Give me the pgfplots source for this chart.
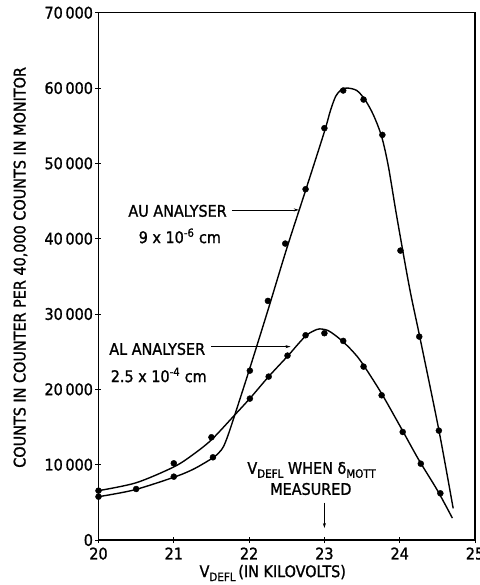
\documentclass[border=0pt]{standalone}
\usepackage{pgfplots}
\pgfplotsset{compat=1.18}
\usepackage{fontspec}
\setmainfont{DejaVu Sans Condensed}[FakeBold=1.2]
\usetikzlibrary{arrows.meta}

\newcommand{\lbl}{\fontsize{16}{18}\selectfont}
\newcommand{\sub}[1]{\raisebox{-0.45ex}{\fontsize{11.5}{13}\selectfont #1}}

\begin{document}
\begin{tikzpicture}
\begin{axis}[
  scale only axis,
  width=376.5pt, height=527.3pt,
  xmin=20, xmax=25, ymin=0, ymax=70000,
  xtick={20,21,22,23,24,25},
  xticklabels={20,21,22,23,24,25},
  ytick={0,10000,20000,30000,40000,50000,60000,70000},
  yticklabels={0,10\,000,20\,000,30\,000,40\,000,50\,000,60\,000,70\,000},
  xtick pos=bottom, ytick pos=left,
  tick align=center, major tick length=6pt,
  tick style={black, line width=0.9pt},
  axis line style={line width=1.3pt},
  tick label style={font=\lbl},
  xticklabel style={yshift=-1pt},
  yticklabel style={xshift=1pt},
  ylabel={COUNTS IN COUNTER PER 40,000 COUNTS IN MONITOR},
  ylabel style={font=\lbl, at={(rel axis cs:0,0.5)}, anchor=center, yshift=78pt, xshift=9pt},
  xlabel={V\sub{DEFL}\,(IN KILOVOLTS)},
  xlabel style={font=\lbl, at={(rel axis cs:0.5,0)}, anchor=center, yshift=-33pt, xshift=-14pt},
  clip=false,
]
% AU analyser fitted curve
\addplot[black, line width=1.4pt, smooth] coordinates {
(20,5750) (20.47,6640) (21,8330) (21.26,9400) (21.51,10850) (21.6,11600)
(21.66,12400) (21.72,13900) (21.8,16300) (22.0,22500) (22.25,30500)
(22.5,38700) (22.75,46400) (23.0,54200) (23.08,57000) (23.15,58900)
(23.22,59750) (23.3,60000) (23.43,59670) (23.54,58430) (23.65,56440)
(23.76,53560) (23.85,49580) (23.96,43000) (24.13,33500) (24.27,26800)
(24.52,14600) (24.71,4200)
};
% AL analyser fitted curve
\addplot[black, line width=1.4pt, smooth] coordinates {
(20,6550) (20.5,7600) (21,9700) (21.25,11300) (21.5,13300) (21.8,16500)
(22.02,18900) (22.26,21700) (22.52,24500) (22.65,26000) (22.77,27250)
(22.9,27950) (22.97,28000) (23.05,27800) (23.14,27200) (23.25,26300)
(23.38,25000) (23.5,23500) (23.75,19600) (24.0,15200) (24.25,10700)
(24.5,6600) (24.7,2900)
};
% AU measurements
\addplot[only marks, mark=*, mark size=3pt, black] coordinates {
(20,5750) (20.5,6770) (21,8410) (21.52,10980) (22.01,22480) (22.25,31740)
(22.48,39350) (22.75,46570) (23.0,54670) (23.25,59670) (23.52,58470)
(23.77,53780) (24.01,38420) (24.26,27000) (24.52,14520)
};
% AL measurements
\addplot[only marks, mark=*, mark size=3pt, black] coordinates {
(20,6550) (21,10180) (21.5,13640) (22.01,18770) (22.26,21690) (22.51,24480)
(22.75,27180) (23.0,27450) (23.25,26430) (23.52,23020) (23.76,19210)
(24.04,14340) (24.28,10130) (24.54,6200)
};
% annotations
\node[font=\lbl] at (axis cs:21.05,43690) {AU ANALYSER};
\node[font=\lbl] at (axis cs:21.08,40370) {9 x 10\textsuperscript{-6} cm};
\draw[-{Stealth[length=5pt,width=3pt]}, line width=0.6pt] (axis cs:21.77,43820) -- (axis cs:22.66,43820);
\node[font=\lbl] at (axis cs:20.78,25360) {AL ANALYSER};
\node[font=\lbl] at (axis cs:20.80,21910) {2.5 x 10\textsuperscript{-4} cm};
\draw[-{Stealth[length=5pt,width=3pt]}, line width=0.6pt] (axis cs:21.50,25670) -- (axis cs:22.55,25670);
\node[font=\lbl] at (axis cs:22.83,9300) {V\sub{DEFL} WHEN δ\sub{MOTT}};
\node[font=\lbl] at (axis cs:22.82,6770) {MEASURED};
\draw[-{Stealth[length=5pt,width=3pt]}, line width=0.6pt] (axis cs:23,4950) -- (axis cs:23,1590);
\end{axis}
\pgfresetboundingbox
\path (-98.5pt,-45pt) rectangle (380.5pt,540pt);
\end{tikzpicture}
\end{document}
